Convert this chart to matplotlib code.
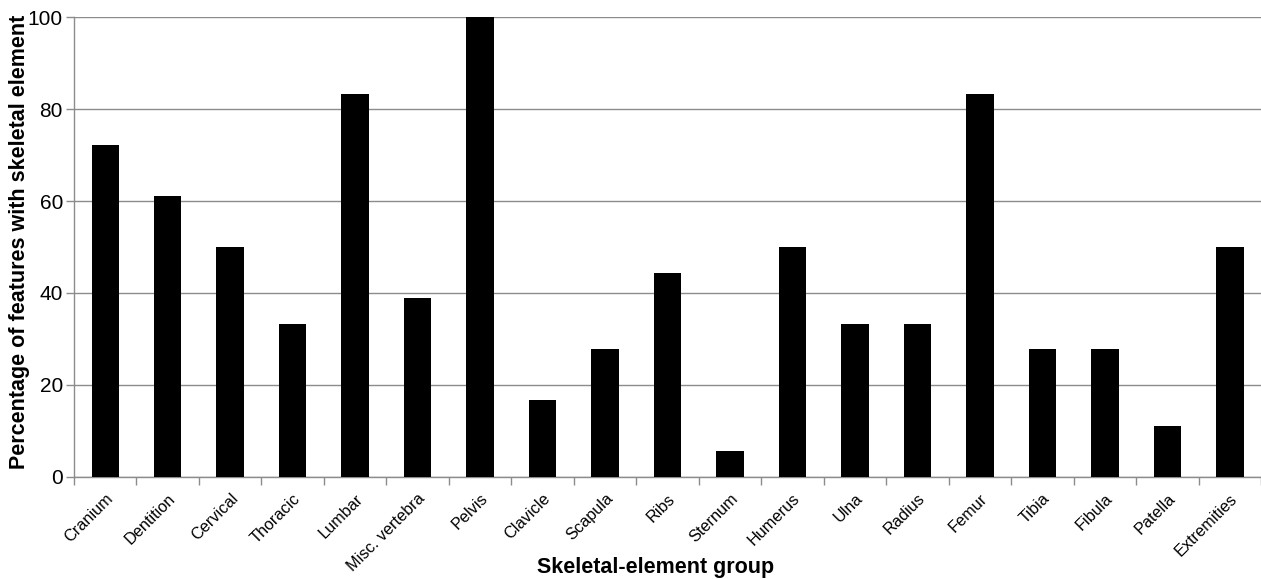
import numpy as np
import matplotlib.pyplot as plt

plt.rcParams['font.family'] = ['Liberation Sans', 'DejaVu Sans']

elements = ["Cranium", "Dentition", "Cervical", "Thoracic", "Lumbar", "Misc. vertebra",
            "Pelvis", "Clavicle", "Scapula", "Ribs", "Sternum", "Humerus", "Ulna",
            "Radius", "Femur", "Tibia", "Fibula", "Patella", "Extremities"]
percent = [72.2, 61.1, 50.0, 33.3, 83.3, 38.9, 100.0, 16.7, 27.8, 44.4, 5.6, 50.0,
           33.3, 33.3, 83.3, 27.8, 27.8, 11.1, 50.0]

fig = plt.figure(figsize=(12.61, 5.79), dpi=100)
ax = fig.add_axes([0.0587, 0.1762, 0.9413, 0.7944])

x = np.arange(len(elements))
ax.bar(x, percent, width=0.44, color='black', zorder=3)

ax.set_xlim(-0.5, len(elements) - 0.5)
ax.set_ylim(0, 100)
ax.set_yticks([0, 20, 40, 60, 80, 100])
ax.yaxis.grid(True, color='#8c8c8c', linewidth=1)
ax.set_axisbelow(True)

ax.set_xticks(x)
ax.set_xticklabels(elements, rotation=45, ha='right', rotation_mode='anchor', fontsize=11.7)
ax.set_xticks(np.arange(-0.5, len(elements)), minor=True)
ax.tick_params(axis='x', which='major', length=0, pad=10)
ax.tick_params(axis='x', which='minor', length=6, color='#8c8c8c', width=1)
ax.tick_params(axis='y', length=6, color='#8c8c8c', width=1, labelsize=15, pad=2)

for s in ['top', 'right']:
    ax.spines[s].set_visible(False)
for s in ['left', 'bottom']:
    ax.spines[s].set_color('#8c8c8c')
    ax.spines[s].set_linewidth(1)

ax.set_ylabel("Percentage of features with skeletal element", fontsize=15.5, fontweight='bold')
ax.yaxis.set_label_coords(-0.037, 0.512)
ax.set_xlabel("Skeletal-element group", fontsize=15.5, fontweight='bold')
ax.xaxis.set_label_coords(0.49, -0.174)

fig.savefig("out.png", dpi=100)
